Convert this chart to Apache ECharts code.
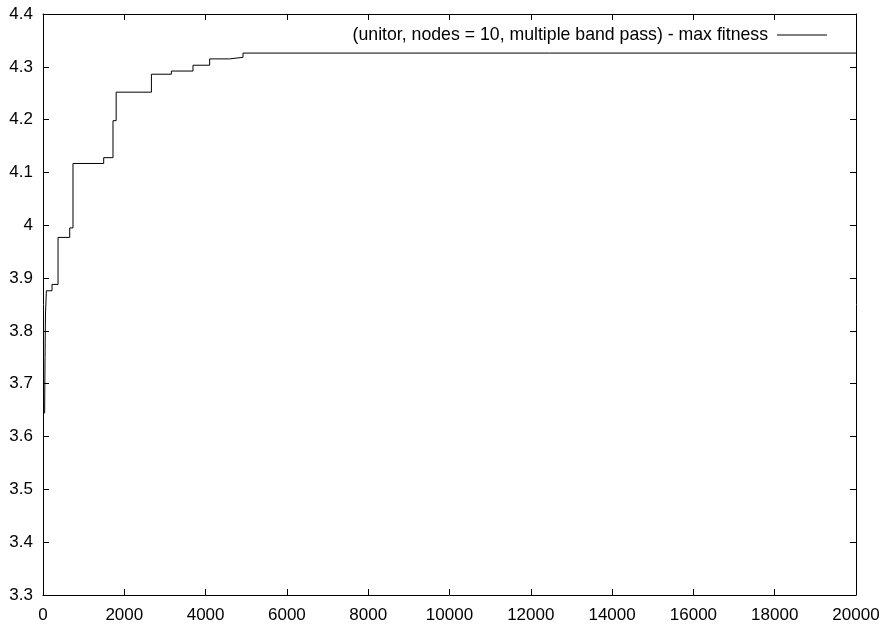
<!DOCTYPE html>
<html>
<head>
<meta charset="utf-8">
<script src="https://cdn.jsdelivr.net/npm/echarts@6/dist/echarts.min.js"></script>
<style>html,body{margin:0;padding:0;background:#fff}#c{width:888px;height:629px}</style>
</head>
<body>
<div id="c"></div>
<script>
const seriesName = '(unitor, nodes = 10, multiple band pass) - max fitness';
const generations = [40, 50, 60, 83, 222, 370, 657, 738, 1493, 1722, 1800, 2667, 3158, 3690, 4100, 4593, 4920, 20000];
const maxFitness = [3.644, 3.75, 3.83, 3.876, 3.888, 3.977, 3.995, 4.117, 4.128, 4.198, 4.252, 4.286, 4.292, 4.303, 4.315, 4.318, 4.326, 4.327];
const xTicks = {min: 0, max: 20000, interval: 2000};
const yTicks = {min: 3.3, max: 4.4, interval: 0.1};

const font = 'Liberation Sans, Arial, sans-serif';
const chart = echarts.init(document.getElementById('c'));
const axisCommon = {
  axisLine: {show: true, onZero: false, lineStyle: {color: '#000', width: 1}},
  axisTick: {show: true, inside: true, length: 6, lineStyle: {color: '#000'}},
  splitLine: {show: false}
};
chart.setOption({
  animation: false,
  grid: {left: 43, right: 32, top: 14, bottom: 34, containLabel: false},
  legend: {
    right: 56, top: 21, align: 'right', icon: 'rect', itemWidth: 50, itemHeight: 1, itemGap: 0,
    textStyle: {fontFamily: font, fontSize: 17.7, color: '#000', padding: [0, 4, 0, 0]},
    data: [seriesName]
  },
  xAxis: [
    Object.assign({type: 'value', position: 'bottom', min: xTicks.min, max: xTicks.max, interval: xTicks.interval,
      axisLabel: {color: '#000', fontFamily: font, fontSize: 17, margin: 12, formatter: v => String(v)}}, axisCommon),
    Object.assign({type: 'value', position: 'top', min: xTicks.min, max: xTicks.max, interval: xTicks.interval,
      axisLabel: {show: false}}, axisCommon)
  ],
  yAxis: [
    Object.assign({type: 'value', position: 'left', min: yTicks.min, max: yTicks.max, interval: yTicks.interval,
      axisLabel: {color: '#000', fontFamily: font, fontSize: 17, margin: 10,
        formatter: v => String(Math.round(v * 10) / 10)}}, axisCommon),
    Object.assign({type: 'value', position: 'right', min: yTicks.min, max: yTicks.max, interval: yTicks.interval,
      axisLabel: {show: false}}, axisCommon)
  ],
  series: [{
    name: seriesName, type: 'line', step: 'end', showSymbol: false, symbol: 'none',
    xAxisIndex: 0, yAxisIndex: 0,
    lineStyle: {color: '#000', width: 1}, itemStyle: {color: '#000'},
    data: generations.map((g, i) => [g, maxFitness[i]])
  }]
});
</script>
</body>
</html>
